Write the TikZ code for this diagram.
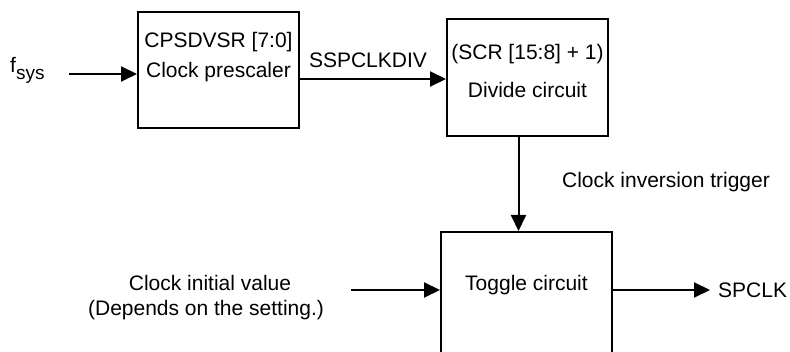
\documentclass[tikz,border=0pt]{standalone}
\usepackage{fontspec}
\setmainfont{Liberation Sans}
\usepackage{tikz}
\usetikzlibrary{
  arrows.meta,              % Triangle 箭头样式
  calc                      % 坐标计算
}
\tikzset{
  sig/.style={
    -{Triangle[length=16pt,width=15pt]},
    line width=2pt,
    color=black
  },
  block/.style={
    draw=black,
    line width=2pt,
    rectangle,
    inner sep=0pt
  },
  txt/.style={
    inner sep=0pt,
    font=\fontsize{21}{25}\selectfont
  }
}

\begin{document}
\begin{tikzpicture}[x=1pt, y=-1pt]
    % 画布范围 (下边缘切掉 Toggle 框底部)
    \clip (0, 0) rectangle (790, 352);

    % --- 三个方框 ---
    \node[block, minimum width=161pt, minimum height=116pt] (pre) at (218.5, 70) {};
    \node[block, minimum width=161pt, minimum height=117pt] (div) at (527.5, 77.5) {};
    \node[block, minimum width=171pt, minimum height=150pt] (tog) at (526.5, 307) {};

    % 方框内文字
    \node[txt] (preReg) at (218.5, 42) {CPSDVSR [7:0]};
    \node[txt] (preName) at (218.5, 72) {Clock prescaler};
    \node[txt] (divReg) at (527.5, 54) {(SCR [15:8] + 1)};
    \node[txt] (divName) at (527.5, 90) {Divide circuit};
    \node[txt] (togName) at (526.5, 285) {Toggle circuit};

    % --- 输入与输出 ---
    \node[txt, anchor=base west] (fsys) at (10, 73)
      {f\raisebox{-7pt}{\fontsize{19}{22}\selectfont sys}};
    \coordinate (fin) at (69, 74);
    \draw[sig] (fin) -- (fin -| pre.west);

    \draw[sig] ([yshift=-9pt]pre.east) coordinate (pd) -- (pd -| div.west);
    \node[txt] (clkdiv) at (368, 60) {SSPCLKDIV};

    \draw[sig] ([xshift=-9pt]div.south) coordinate (dt) -- (dt |- tog.north);
    \node[txt] (trig) at (666, 182) {Clock inversion trigger};

    \node[txt] (initA) at (210, 283) {Clock initial value};
    \node[txt] (initB) at (206, 310) {(Depends on the setting.)};
    \coordinate (iv) at (351, 290);
    \draw[sig] (iv) -- (iv -| tog.west);

    \node[txt, anchor=west] (spclk) at (718, 290) {SPCLK};
    \draw[sig] (tog.east |- iv) -- ([xshift=-8pt]spclk.west);
\end{tikzpicture}
\end{document}
